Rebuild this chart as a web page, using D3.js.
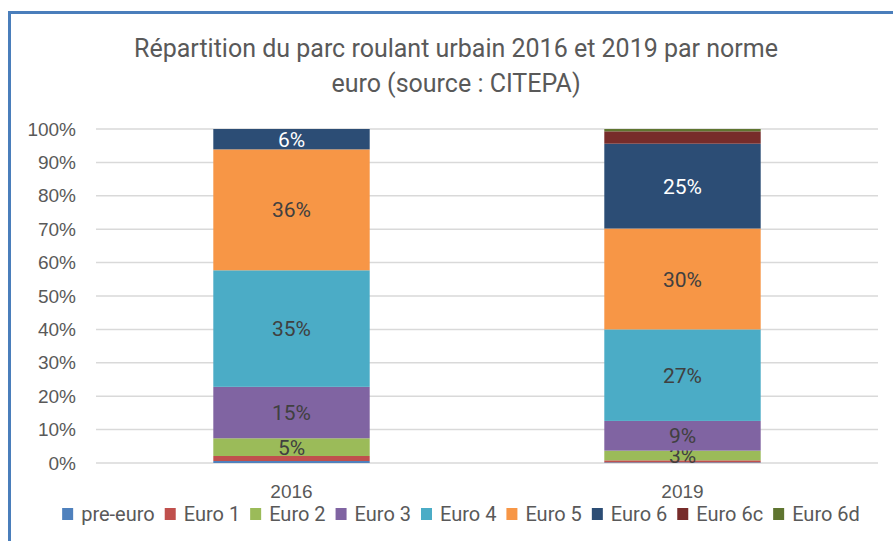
<!DOCTYPE html>
<html>
<head>
<meta charset="utf-8">
<script src="https://cdn.jsdelivr.net/npm/d3@7"></script>
<style>
  body { margin: 0; background: #fff; }
  svg { display: block; font-family: "Roboto", sans-serif; }
</style>
</head>
<body>
<svg id="chart" width="893" height="541"></svg>
<script>
// Data (share of fleet, %)
const years = ["2016", "2019"];
const norms = ["pre-euro", "Euro 1", "Euro 2", "Euro 3", "Euro 4", "Euro 5", "Euro 6", "Euro 6c", "Euro 6d"];
const values2016 = [0.6, 1.5, 5.3, 15.4, 34.9, 36.2, 6.1, 0, 0];
const values2019 = [0.2, 0.6, 2.9, 8.9, 27.4, 30.2, 25.4, 3.7, 0.7];
const labelled = ["Euro 2", "Euro 3", "Euro 4", "Euro 5", "Euro 6"];
const colors = ["#4f81bd", "#c0504d", "#9bbb59", "#8064a2", "#4bacc6", "#f79646", "#2c4d75", "#772c2a", "#5f7530"];
const yTicks = [0, 10, 20, 30, 40, 50, 60, 70, 80, 90, 100];

const svg = d3.select("#chart");
const width = 893, height = 541;
const margin = {top: 129, right: 15, bottom: 78, left: 96};

// frame (only top and left edges visible)
svg.append("path")
    .attr("d", `M9.5,${height}V12.5H${width}`)
    .attr("fill", "none")
    .attr("stroke", "#4a7ebb")
    .attr("stroke-width", 3);

svg.append("text")
    .attr("x", 456).attr("y", 57)
    .attr("text-anchor", "middle")
    .attr("font-size", 25)
    .attr("fill", "#595959")
    .text("Répartition du parc roulant urbain 2016 et 2019 par norme");
svg.append("text")
    .attr("x", 456).attr("y", 92)
    .attr("text-anchor", "middle")
    .attr("font-size", 25)
    .attr("fill", "#595959")
    .text("euro (source : CITEPA)");

const x = d3.scaleBand()
    .domain(years)
    .range([margin.left, width - margin.right])
    .paddingInner(0.6)
    .paddingOuter(0.3);

const y = d3.scaleLinear()
    .domain([0, 100])
    .range([height - margin.bottom, margin.top]);

const color = d3.scaleOrdinal().domain(norms).range(colors);

// gridlines
svg.append("g")
    .selectAll("line")
    .data(yTicks)
    .join("line")
    .attr("x1", margin.left)
    .attr("x2", width - margin.right)
    .attr("y1", d => y(d))
    .attr("y2", d => y(d))
    .attr("stroke", "#d9d9d9")
    .attr("stroke-width", 1.5);

const yAxis = svg.append("g")
    .attr("transform", `translate(${margin.left - 20},0)`)
    .call(d3.axisLeft(y).tickValues(yTicks).tickFormat(d => d + "%").tickSize(0).tickPadding(0));
yAxis.select(".domain").remove();
yAxis.selectAll("text")
    .attr("font-size", 19)
    .attr("fill", "#595959")
    .attr("font-family", null);

const xAxis = svg.append("g")
    .attr("transform", `translate(0,${height - margin.bottom})`)
    .call(d3.axisBottom(x).tickSize(0).tickPadding(22));
xAxis.select(".domain").remove();
xAxis.selectAll("text")
    .attr("font-size", 19)
    .attr("fill", "#595959")
    .attr("font-family", null);

// stacked bars
const rows = years.map((yr, i) => {
    const vals = i === 0 ? values2016 : values2019;
    const row = {year: yr};
    norms.forEach((n, j) => row[n] = vals[j]);
    return row;
});
const series = d3.stack().keys(norms)(rows);

const layers = svg.append("g")
    .selectAll("g")
    .data(series)
    .join("g")
    .attr("fill", d => color(d.key));

layers.selectAll("rect")
    .data(d => d)
    .join("rect")
    .attr("x", d => x(d.data.year))
    .attr("width", x.bandwidth())
    .attr("y", d => y(d[1]))
    .attr("height", d => y(d[0]) - y(d[1]));

layers.filter(d => labelled.includes(d.key))
    .each(function (s) {
        d3.select(this).selectAll("text")
            .data(s)
            .join("text")
            .attr("x", d => x(d.data.year) + x.bandwidth() / 2)
            .attr("y", d => (y(d[0]) + y(d[1])) / 2)
            .attr("dy", "0.36em")
            .attr("text-anchor", "middle")
            .attr("font-size", 21)
            .attr("fill", s.key === "Euro 6" ? "#ffffff" : "#404040")
            .text(d => Math.round(d[1] - d[0]) + "%");
    });

// legend, laid out from the text widths and centred like the reference
const legend = svg.append("g");
const items = legend.selectAll("g")
    .data(norms)
    .join("g");
items.append("rect")
    .attr("x", 0).attr("y", -6)
    .attr("width", 11).attr("height", 12)
    .attr("fill", d => color(d));
items.append("text")
    .attr("x", 19)
    .attr("dy", "0.36em")
    .attr("font-size", 20)
    .attr("fill", "#595959")
    .text(d => d);

let cursor = 0;
items.each(function () {
    const w = d3.select(this).select("text").node().getComputedTextLength();
    d3.select(this).attr("transform", `translate(${cursor},0)`);
    cursor += 19 + w + 10;
});
const legendWidth = cursor - 10;
legend.attr("transform", `translate(${461 - legendWidth / 2},514)`);
</script>
</body>
</html>
